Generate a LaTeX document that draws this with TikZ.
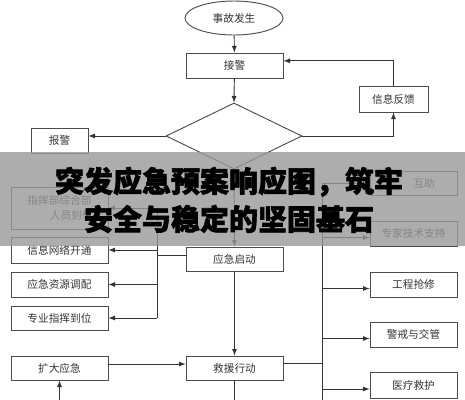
\documentclass[tikz,border=0pt]{standalone}
\usepackage{fontspec}
\setmainfont{Noto Sans CJK SC}
\newfontfamily\titlefont{Noto Sans CJK SC}[BoldFeatures={FakeBold=2}]
\usetikzlibrary{arrows}
\usetikzlibrary{shapes.geometric}

\tikzset{
  box/.style={draw=black!70, line width=0.7pt, inner sep=0pt, minimum width=72.75pt, minimum height=18.75pt, text=black!80, font=\fontsize{8}{11}\selectfont, align=center},
  wire/.style={draw=black!80, line width=0.7pt},
  arr/.style={wire, -latex},
}

\begin{document}
\begin{tikzpicture}[x=0.75pt,y=0.75pt,yscale=-1,xscale=1]
\useasboundingbox (0,0) rectangle (465,400);

%Shape: Ellipse
\node[box, ellipse, minimum width=73.5pt, minimum height=25.5pt] (shigu) at (234,18) {事故发生};
%Shape: Rectangle
\node[box] (jiejing) at (234.5,65.5) {接警};
%Shape: Diamond
\node[box, diamond, minimum width=102pt, minimum height=49.5pt] (judge) at (234,136) {};
\node[box, minimum width=51.75pt, minimum height=19.5pt] (xinxi) at (393.5,99) {信息反馈};
\node[box, minimum width=42.75pt] (baojing) at (59.5,140.5) {报警};

% left column
\node[box, minimum height=31.5pt] (zhihui) at (59.5,208) {指挥部综合部\\\hspace*{2.2em}人员到位};
\node[box, minimum height=19.5pt] (wangluo) at (59.5,250) {信息网络开通};
\node[box] (ziyuan) at (59.5,284.5) {应急资源调配};
\node[box, minimum height=18pt] (zhuanye) at (59.5,318) {专业指挥到位};
\node[box, minimum height=18pt] (kuoda) at (59.5,368) {扩大应急};

% middle column
\node[box, minimum height=18pt] (qidong) at (234.5,259) {应急启动};
\node[box, minimum height=18pt] (jiuyuan) at (234.5,368) {救援行动};

% right column
\node[box, minimum width=65.25pt, minimum height=18pt] (huzhu) at (413.5,183) {\hspace*{2em}互助};
\node[box, minimum width=65.25pt] (zhuanjia) at (413.5,233.5) {专家技术支持};
\node[box, minimum width=65.25pt] (gongcheng) at (413.5,284.5) {工程抢修};
\node[box, minimum width=65.25pt] (jingjie) at (413.5,334.5) {警戒与交管};
\node[box, minimum width=65.25pt, minimum height=19.5pt] (yiliao) at (413.5,385) {医疗救护};

\coordinate (ltop) at (157,208);
\coordinate (lbot) at (157,318);
\coordinate (rtop) at (322,183);
\coordinate (rbot) at (322,400);
\coordinate (exit) at (234.5,400);
\coordinate (entry) at (59.5,400);

%Straight Lines
\draw[arr] (shigu) -- (jiejing);
\draw[arr] (jiejing) -- (judge.north);
\draw[arr] (judge.west) -- (judge.west -| baojing.east);
\draw[arr] (judge.east) -| (xinxi.south);
\draw[arr] (xinxi.north) |- ([yshift=-3.5pt]jiejing.east);
\draw[arr] (judge.south) -- (qidong.north);
\draw[arr] (qidong.south) -- (jiuyuan.north);
\draw[wire] (jiuyuan.south) -- (exit);

% left bus
\draw[wire] (ltop) -- (lbot);
\draw[wire] ([yshift=-3pt]qidong.west) -- ([yshift=-3pt]qidong.west -| ltop);
\draw[arr] (ltop) -- (zhihui.east);
\draw[arr] (wangluo.east -| ltop) -- (wangluo.east);
\draw[arr] (ziyuan.east -| ltop) -- (ziyuan.east);
\draw[arr] (lbot) -- (zhuanye.east);
\draw[arr] ([yshift=-3pt]kuoda.east) -- ([yshift=-3pt]jiuyuan.west);
\draw[arr] (entry) -- (kuoda.south);

% right bus
\draw[wire] (rtop) -- (rbot);
\draw[wire] ([yshift=-3.5pt]jiuyuan.east) -- ([yshift=-3.5pt]jiuyuan.east -| rtop);
\draw[arr] (rtop) -- (huzhu.west);
\draw[arr] ([yshift=3pt]zhuanjia.west -| rtop) -- ([yshift=3pt]zhuanjia.west);
\draw[arr] ([yshift=3pt]gongcheng.west -| rtop) -- ([yshift=3pt]gongcheng.west);
\draw[arr] ([yshift=3pt]jingjie.west -| rtop) -- ([yshift=3pt]jingjie.west);
\draw[arr] ([yshift=3pt]yiliao.west -| rtop) -- ([yshift=3pt]yiliao.west);

%Shape: Banner
\fill[black!40, opacity=0.8] (0,152) rectangle (465,246);
% Text Node
\node[inner sep=0pt, align=center, font=\titlefont\bfseries\fontsize{21.75}{28.5}\selectfont] (title) at (229,200) {突发应急预案响应图，筑牢\\安全与稳定的坚固基石};
\end{tikzpicture}
\end{document}
